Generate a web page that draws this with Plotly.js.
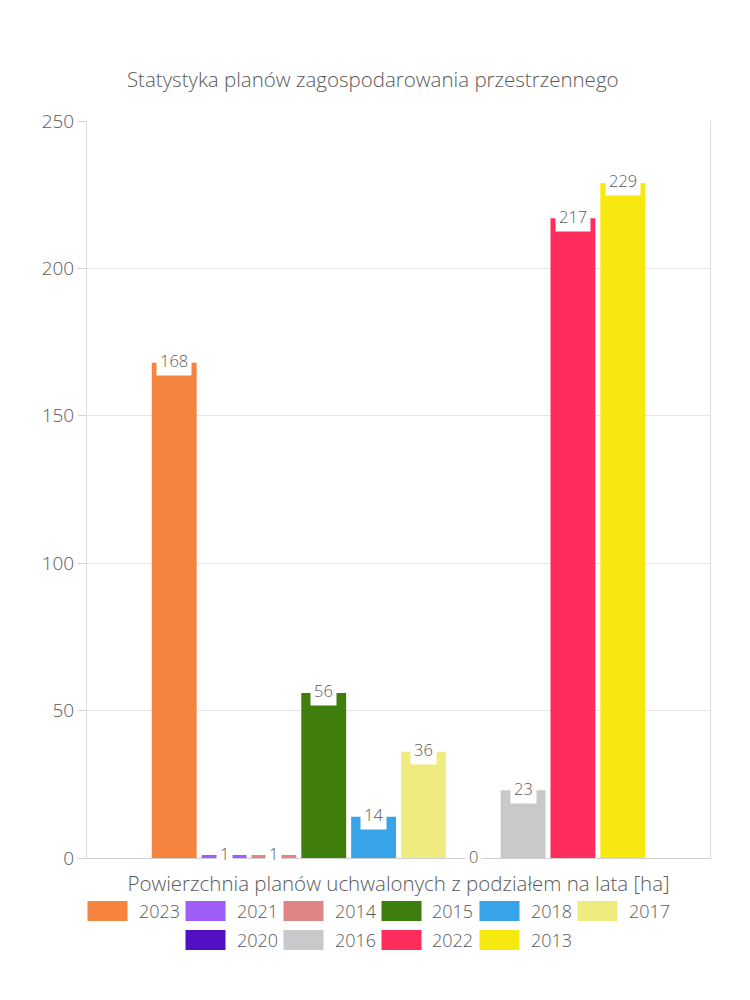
<!DOCTYPE html>
<html><head><meta charset="utf-8">
<script src="https://cdn.plot.ly/plotly-3.0.1.min.js"></script>
<style>body{margin:0;background:#fff}#c{width:750px;height:1000px}</style>
</head><body><div id="c"></div>
<script>
const category = ['Powierzchnia'];
const seriesNames = ['2023','2021','2014','2015','2018','2017','2020','2016','2022','2013'];
const seriesValues = [168, 1, 1, 56, 14, 36, 0, 23, 217, 229];
const seriesColors = ['#F5843F','#A05CF7','#E08585','#3F7D0D','#37A3E8','#F0EB7F','#5210C2','#C9C9CC','#FF2D5E','#F7E90F'];
const yTicks = [0, 50, 100, 150, 200, 250];

const FONT = '"Open Sans", Lato, sans-serif';
const TXT = '#5a5a5a';
const W = 750, ML = 87, MR = 40, PW = W - ML - MR;
const bargap = 0.2, n = seriesNames.length;

const traces = seriesNames.map((s, i) => ({
  type: 'bar', name: s, x: category, y: [seriesValues[i]],
  marker: {color: seriesColors[i]}, hoverinfo: 'name+y', showlegend: false
}));

const annotations = seriesNames.map((s, i) => ({
  x: -(1 - bargap) / 2 + (1 - bargap) / n * (i + 0.5), xref: 'x',
  y: seriesValues[i], yref: 'y', yanchor: 'middle', xanchor: 'center', yshift: 2,
  text: String(seriesValues[i]), showarrow: false,
  bgcolor: '#ffffff', borderpad: 3, font: {family: FONT, size: 16.5, color: TXT, weight: 300}
}));

// custom legend (two centered rows)
const rows = [seriesNames.slice(0, 6), seriesNames.slice(6)];
const rowY = [911, 940];
const pitch = 98, sw = 40, sh = 20, textGap = 9, textW = 36;
const shapes = [];
let idx = 0;
rows.forEach((row, r) => {
  const total = row.length * pitch - (pitch - (sw + textGap + textW));
  let x0 = (W - total) / 2;
  row.forEach((name, k) => {
    const i = idx++;
    const sx = x0 + k * pitch;
    const yc = rowY[r];
    shapes.push({type: 'rect', xref: 'paper', yref: 'paper',
      x0: (sx - ML) / PW, x1: (sx + sw - ML) / PW,
      y0: (858 - (yc + sh / 2)) / 737, y1: (858 - (yc - sh / 2)) / 737,
      fillcolor: seriesColors[i], line: {width: 0}});
    annotations.push({xref: 'paper', yref: 'paper',
      x: (sx + sw + textGap - ML) / PW, y: (858 - yc) / 737,
      xanchor: 'left', yanchor: 'middle', showarrow: false, text: name,
      font: {family: FONT, size: 18, color: TXT, weight: 300}});
  });
});

const layout = {
  width: 750, height: 1000,
  margin: {l: ML, r: MR, t: 121, b: 142},
  paper_bgcolor: '#fff', plot_bgcolor: '#fff',
  barmode: 'group', bargap: bargap, bargroupgap: 0.1,
  showlegend: false,
  font: {family: FONT, color: TXT},
  title: {text: 'Statystyka planów zagospodarowania przestrzennego',
    font: {family: FONT, size: 20.5, color: TXT, weight: 300}, x: 0.497, xanchor: 'center', y: 0.92, yanchor: 'middle'},
  xaxis: {type: 'category', showticklabels: false, ticks: '', showgrid: false,
    showline: true, linecolor: '#d0d0d0', linewidth: 1,
    title: {text: 'Powierzchnia planów uchwalonych z podziałem na lata [ha]',
      font: {family: FONT, size: 20.5, color: TXT, weight: 300}, standoff: 18}},
  yaxis: {range: [0, 250], tickvals: yTicks, ticktext: yTicks.map(String),
    tickfont: {family: FONT, size: 19, color: TXT, weight: 300},
    ticks: 'outside', ticklen: 8, tickcolor: '#d0d0d0',
    showline: true, mirror: true, linecolor: '#dddddd', linewidth: 1,
    gridcolor: '#e6e6e6', zeroline: false},
  annotations: annotations, shapes: shapes
};

Plotly.newPlot('c', traces, layout, {displayModeBar: false, staticPlot: true});
</script></body></html>
